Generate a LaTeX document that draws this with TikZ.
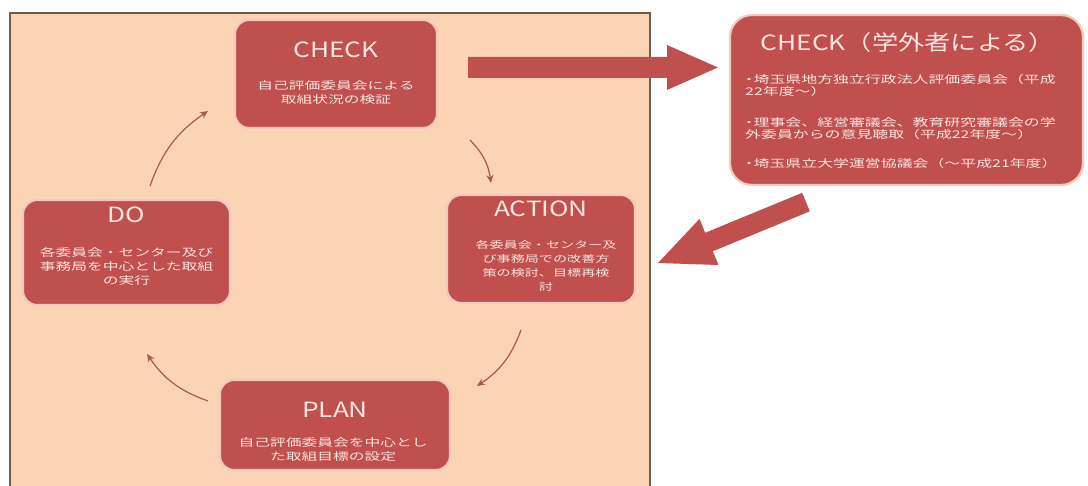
\documentclass[tikz,border=0pt]{standalone}
\usepackage{fontspec}
\newfontfamily\jpbody[FakeStretch=1.5]{Noto Sans CJK JP}
\newfontfamily\jphead[FakeStretch=1.25]{Noto Sans CJK JP}
\usetikzlibrary{arrows.meta}
\definecolor{panel}{HTML}{FBD4B6}
\definecolor{boxred}{HTML}{C0504D}
\definecolor{boxedge}{HTML}{F1C9BE}
\definecolor{txt}{HTML}{FBE6E2}
\definecolor{cyc}{HTML}{A65A4E}
\definecolor{framec}{HTML}{6E5A50}
\newcommand{\bul}{\kern-0.38em・\kern-0.32em}
\begin{document}
\begin{tikzpicture}[x=1pt,y=-1pt,
  redbox/.style={draw=boxedge, line width=2.2pt, fill=boxred, rounded corners=14pt, inner sep=0pt},
  headtext/.style={text=txt, font=\jphead\fontsize{21}{24}\selectfont, inner sep=0pt},
  bodytext/.style={text=txt, font=\jpbody\fontsize{10.5}{14}\selectfont, align=center, inner sep=0pt},
  exttext/.style={text=txt, font=\jpbody\fontsize{10.6}{12}\selectfont, align=left, inner sep=0pt, anchor=west},
  cyclearrow/.style={draw=cyc, line width=1.2pt, -{Stealth[length=8pt,width=7pt]}, bend left=18},
  blockarrow/.style={fill=boxred, draw=none}]
\useasboundingbox (0,0) rectangle (1088,486);
\fill[white] (0,0) rectangle (1088,486);
\fill[panel] (10,13) rectangle (650,486);
\draw[framec, line width=1.3pt] (10,486) -- (10,13) -- (650,13) -- (650,486);

% CHECK
\node[redbox, minimum width=202pt, minimum height=108pt] (check) at (336,74) {};
\node[headtext] (checkH) at (336,50) {CHECK};
\node[bodytext] (checkB) at (336,92.5) {自己評価委員会による\\取組状況の検証};

% DO
\node[redbox, minimum width=207pt, minimum height=105pt] (do) at (126.5,252.5) {};
\node[headtext] (doH) at (126.5,215) {DO};
\node[bodytext] (doB) at (126.5,266) {各委員会・センター及び\\事務局を中心とした取組\\の実行};

% ACTION
\node[redbox, minimum width=188pt, minimum height=108pt] (action) at (541,249) {};
\node[headtext] (actionH) at (541,209) {ACTION};
\node[bodytext, font=\jpbody\fontsize{9.4}{14}\selectfont] (actionB) at (546,265.5) {各委員会・センター及\\び事務局での改善方\\策の検討、目標再検\\討};

% PLAN
\node[redbox, minimum width=230pt, minimum height=90pt] (plan) at (335,425) {};
\node[headtext] (planH) at (335,410) {PLAN};
\node[bodytext] (planB) at (333,450) {自己評価委員会を中心とし\\た取組目標の設定};

% external CHECK
\node[redbox, rounded corners=22pt, minimum width=353pt, minimum height=170pt] (ext) at (906.5,100) {};
\node[headtext] (extH) at (908,43) {CHECK（学外者による）};
\node[exttext] (ext1) at (745,85) {\bul 埼玉県地方独立行政法人評価委員会（平成\\22年度～）};
\node[exttext] (ext2) at (745,129) {\bul 理事会、経営審議会、教育研究審議会の学\\外委員からの意見聴取（平成22年度～）};
\node[exttext] (ext3) at (745,163) {\bul 埼玉県立大学運営協議会（～平成21年度）};

% cycle arrows
\coordinate (c1s) at (470,140);
\coordinate (c1e) at (491,183);
\coordinate (c2s) at (521,330);
\coordinate (c2e) at (477,386);
\coordinate (c3s) at (208,401);
\coordinate (c3e) at (147,354);
\coordinate (c4s) at (150,186);
\coordinate (c4e) at (208,111);
\draw[cyclearrow] (c1s) to (c1e);
\draw[cyclearrow] (c2s) to (c2e);
\draw[cyclearrow] (c3s) to (c3e);
\draw[cyclearrow] (c4s) to (c4e);

% block arrows
\fill[blockarrow] (468,57) -- (667,57) -- (667,45) -- (718,67.5) -- (667,90) -- (667,78) -- (468,78) -- cycle;
\fill[blockarrow] (802.2,192.8) -- (809.8,211.3) -- (712.8,251.3) -- (718.5,265) -- (658,263) -- (699.5,218.9) -- (705.2,232.8) -- cycle;
\end{tikzpicture}
\end{document}
